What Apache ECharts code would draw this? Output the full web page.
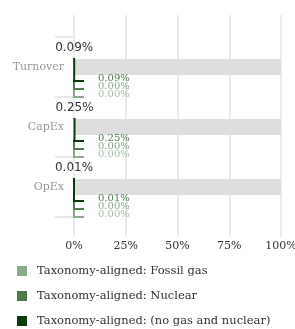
<!DOCTYPE html>
<html>
<head>
<meta charset="utf-8">
<script src="https://cdn.jsdelivr.net/npm/echarts@6/dist/echarts.min.js"></script>
<style>
  html, body { margin: 0; padding: 0; background: #fff; }
  #chart { width: 295px; height: 329px; }
</style>
</head>
<body>
<div id="chart"></div>
<script>
const categories = ['Turnover', 'CapEx', 'OpEx'];
const totalValues = [0.09, 0.25, 0.01];
const noGasValues = [0.09, 0.25, 0.01];
const nuclearValues = [0, 0, 0];
const fossilGasValues = [0, 0, 0];
const backgroundValues = [100, 100, 100];
const xTicks = [0, 25, 50, 75, 100];

const serif = 'DejaVu Serif';
const colors = {
  noGas: '#0b3b0b',
  nuclear: '#4e7a4e',
  fossil: '#8aaa8a'
};
const labelColors = ['#4f7c4f', '#86a886', '#a9c0a9'];

const chart = echarts.init(document.getElementById('chart'));

// each sub-series draws one step of the "E": vertical piece + short stub + small label
const subRender = (idx, color) => (params, api) => {
  const cat = api.value(1);
  const pt = api.coord([api.value(0), cat]);
  const base = api.coord([0, cat]);
  const top = idx === 0 ? pt[1] - 9 : pt[1] + 15 + (idx - 1) * 8;
  const bottom = pt[1] + 15 + idx * 8;
  return {
    type: 'group',
    children: [
      { type: 'line', shape: { x1: pt[0], y1: top, x2: pt[0], y2: bottom }, style: { stroke: color, lineWidth: 2 } },
      { type: 'line', shape: { x1: base[0] - 1, y1: bottom - 1, x2: base[0] + 10, y2: bottom - 1 }, style: { stroke: color, lineWidth: 2 } },
      {
        type: 'text',
        x: base[0] + 24,
        y: bottom - 4,
        style: {
          text: api.value(0).toFixed(2) + '%',
          fill: labelColors[idx],
          font: '10px "' + serif + '"',
          verticalAlign: 'middle',
          align: 'left'
        }
      }
    ]
  };
};

const pairs = (vals) => vals.map((v, i) => [v, i]);

const option = {
  animation: false,
  grid: { left: 74, right: 14, top: 37, bottom: 112, outerBoundsMode: 'none' },
  legend: {
    orient: 'vertical',
    left: 12,
    top: 260,
    height: 90,
    itemWidth: 10,
    itemHeight: 10,
    itemGap: 13,
    icon: 'rect',
    data: ['Taxonomy-aligned: Fossil gas', 'Taxonomy-aligned: Nuclear', 'Taxonomy-aligned: (no gas and nuclear)'],
    textStyle: { fontFamily: serif, fontSize: 11.5, color: '#333', padding: [0, 0, 0, 5] }
  },
  xAxis: [
    {
      type: 'value',
      min: 0,
      max: 100,
      interval: 25,
      axisLine: { show: false },
      axisTick: { show: true, length: 20, lineStyle: { color: '#ebebeb', width: 2 } },
      splitLine: { show: true, lineStyle: { color: '#ebebeb', width: 2 } },
      axisLabel: {
        margin: 24,
        color: '#333',
        fontFamily: serif,
        fontSize: 11,
        formatter: (v) => (xTicks.includes(v) ? v + '%' : '')
      }
    },
    {
      type: 'value',
      position: 'top',
      min: 0,
      max: 100,
      interval: 25,
      axisLine: { show: false },
      axisTick: { show: true, length: 22, lineStyle: { color: '#ebebeb', width: 2 } },
      splitLine: { show: false },
      axisLabel: { show: false }
    }
  ],
  yAxis: {
    type: 'category',
    data: categories,
    inverse: true,
    axisLine: { show: false },
    axisTick: { show: true, length: 19, lineStyle: { color: '#e8e8e8', width: 2 } },
    axisLabel: { margin: 10, color: '#999', fontFamily: serif, fontSize: 11 }
  },
  series: [
    {
      name: 'bg',
      type: 'bar',
      data: backgroundValues,
      barWidth: 16,
      silent: true,
      itemStyle: { color: '#dedede' },
      z: 1
    },
    {
      name: 'total',
      type: 'custom',
      data: pairs(totalValues),
      encode: { x: 0, y: 1 },
      z: 5,
      renderItem: (params, api) => {
        const pt = api.coord([api.value(0), api.value(1)]);
        return {
          type: 'text',
          x: pt[0],
          y: pt[1] - 19,
          style: {
            text: api.value(0).toFixed(2) + '%',
            fill: '#333',
            font: '12px "DejaVu Sans"',
            align: 'center',
            verticalAlign: 'middle'
          }
        };
      }
    },
    {
      name: 'Taxonomy-aligned: (no gas and nuclear)',
      type: 'custom',
      data: pairs(noGasValues),
      encode: { x: 0, y: 1 },
      itemStyle: { color: colors.noGas },
      z: 6,
      renderItem: subRender(0, colors.noGas)
    },
    {
      name: 'Taxonomy-aligned: Nuclear',
      type: 'custom',
      data: pairs(nuclearValues),
      encode: { x: 0, y: 1 },
      itemStyle: { color: colors.nuclear },
      z: 6,
      renderItem: subRender(1, colors.nuclear)
    },
    {
      name: 'Taxonomy-aligned: Fossil gas',
      type: 'custom',
      data: pairs(fossilGasValues),
      encode: { x: 0, y: 1 },
      itemStyle: { color: colors.fossil },
      z: 6,
      renderItem: subRender(2, colors.fossil)
    }
  ]
};

chart.setOption(option);
window.addEventListener('resize', () => chart.resize());
</script>
</body>
</html>
